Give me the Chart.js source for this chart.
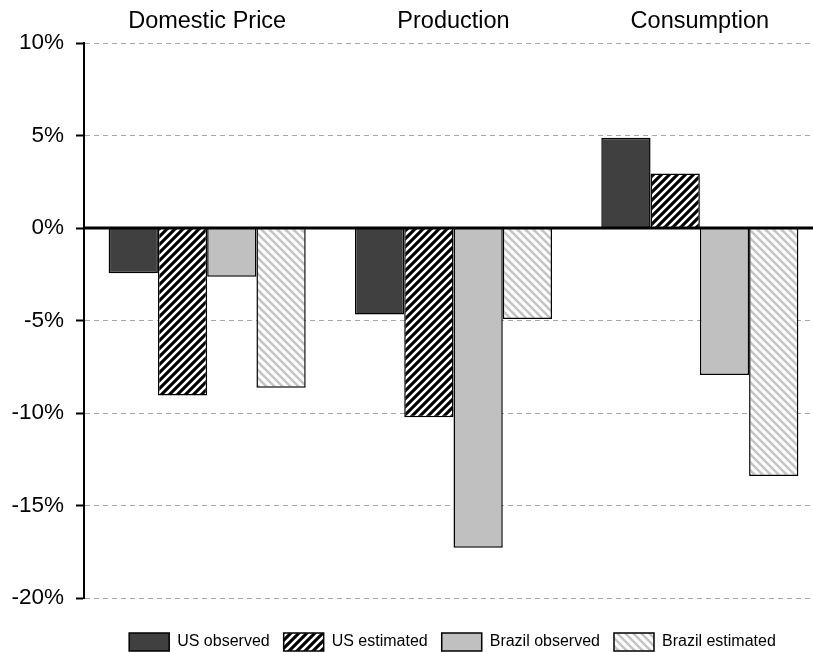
<!DOCTYPE html>
<html>
<head>
<meta charset="utf-8">
<script src="https://cdn.jsdelivr.net/npm/chart.js@4.4.0/dist/chart.umd.min.js"></script>
<style>
html, body { margin: 0; padding: 0; background: #fff; overflow: hidden; }
#wrap { width: 813px; height: 652px; overflow: hidden; }
</style>
</head>
<body>
<div id="wrap"><canvas id="barChart" width="823" height="652"></canvas></div>
<script>
// data (percent change)
const categories = ['Domestic Price', 'Production', 'Consumption'];
const usObserved = [-2.45, -4.67, 4.88];
const usEstimated = [-9.05, -10.23, 2.95];
const brazilObserved = [-2.63, -17.28, -7.95];
const brazilEstimated = [-8.63, -4.92, -13.4];
const yTicks = [-20, -15, -10, -5, 0, 5, 10];

const FONT = '"Liberation Sans", Arial, Helvetica, sans-serif';

// diagonal hatch fills
function hatch(bg, fg, dir, lw) {
    const c = document.createElement('canvas');
    c.width = 8; c.height = 8;
    const g = c.getContext('2d');
    g.fillStyle = bg;
    g.fillRect(0, 0, 8, 8);
    g.strokeStyle = fg;
    g.lineWidth = lw;
    g.beginPath();
    for (let k = -8; k <= 8; k += 8) {
        if (dir === '/') { g.moveTo(k - 1, 9); g.lineTo(k + 9, -1); }
        else { g.moveTo(k - 1, -1); g.lineTo(k + 9, 9); }
    }
    g.stroke();
    return g.createPattern(c, 'repeat');
}

// thick zero line on top of the bars
const zeroLine = {
    id: 'zeroLine',
    afterDatasetsDraw(chart) {
        const y = chart.scales.y.getPixelForValue(0);
        const a = chart.chartArea;
        const ctx = chart.ctx;
        ctx.save();
        ctx.strokeStyle = '#000';
        ctx.lineWidth = 3;
        ctx.beginPath();
        ctx.moveTo(a.left, y);
        ctx.lineTo(a.right, y);
        ctx.stroke();
        ctx.restore();
    }
};

// canvas is a bit wider than the window, move legend back to the visible centre
// and push it down towards the bottom edge
const legendShift = {
    id: 'legendShift',
    afterLayout(chart) {
        const lg = chart.legend;
        lg.left += 41;
        lg.right += 41;
        lg.top += 21;
        lg.bottom += 21;
    }
};

const ctxBar = document.getElementById('barChart').getContext('2d');
const barChart = new Chart(ctxBar, {
    type: 'bar',
    data: {
        labels: categories,
        datasets: [{
            label: 'US observed',
            data: usObserved,
            backgroundColor: '#404040',
            borderColor: '#000',
            borderWidth: 1.5
        }, {
            label: 'US estimated',
            data: usEstimated,
            backgroundColor: hatch('#000', '#fff', '/', 2.6),
            borderColor: '#000',
            borderWidth: 1.5
        }, {
            label: 'Brazil observed',
            data: brazilObserved,
            backgroundColor: '#c0c0c0',
            borderColor: '#000',
            borderWidth: 1.5
        }, {
            label: 'Brazil estimated',
            data: brazilEstimated,
            backgroundColor: hatch('#fff', '#c4c4c4', '\\', 2.6),
            borderColor: '#000',
            borderWidth: 1.5
        }]
    },
    options: {
        responsive: false,
        animation: false,
        datasets: { bar: { categoryPercentage: 0.8, barPercentage: 1.0 } },
        layout: { padding: { left: 0, right: 0, top: 0, bottom: 12 } },
        plugins: {
            tooltip: { enabled: false },
            legend: {
                position: 'bottom',
                labels: {
                    boxWidth: 40,
                    boxHeight: 18,
                    padding: 14,
                    color: '#000',
                    font: { size: 16, family: FONT }
                }
            }
        },
        scales: {
            x: {
                position: 'top',
                grid: { display: false },
                border: { display: false },
                ticks: { color: '#000', padding: -1, font: { size: 23.5, family: FONT } },
                afterFit: s => { s.height = 43; }
            },
            y: {
                min: -20,
                max: 10,
                afterBuildTicks: s => { s.ticks = yTicks.map(v => ({ value: v })); },
                ticks: {
                    color: '#000',
                    padding: 12,
                    font: { size: 22.5, family: FONT },
                    callback: v => v + '%'
                },
                grid: {
                    color: c => (c.tick && c.tick.value === 0) ? 'rgba(0,0,0,0)' : '#a8a8a8',
                    lineWidth: 1,
                    tickColor: '#000',
                    tickWidth: 2,
                    tickLength: 8
                },
                border: { display: true, color: '#000', width: 2, dash: [5, 4] },
                afterFit: s => { s.width = 84; }
            }
        }
    },
    plugins: [zeroLine, legendShift]
});
</script>
</body>
</html>
